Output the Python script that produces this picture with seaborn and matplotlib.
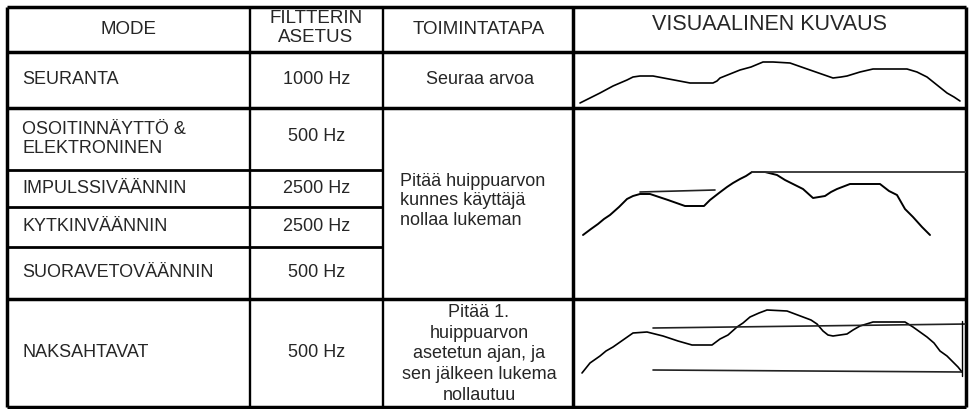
import matplotlib
matplotlib.use("Agg")
import matplotlib.pyplot as plt
import seaborn as sns
import pandas as pd

# taulukon sisältö
modes = ["SEURANTA", "OSOITINNÄYTTÖ &\nELEKTRONINEN", "IMPULSSIVÄÄNNIN",
         "KYTKINVÄÄNNIN", "SUORAVETOVÄÄNNIN", "NAKSAHTAVAT"]
filters = ["1000 Hz", "500 Hz", "2500 Hz", "2500 Hz", "500 Hz", "500 Hz"]
headers = ["MODE", "FILTTERIN\nASETUS", "TOIMINTATAPA", "VISUAALINEN KUVAUS"]
action_track = "Seuraa arvoa"
action_peak = "Pitää huippuarvon\nkunnes käyttäjä\nnollaa lukeman"
action_click = "Pitää 1.\nhuippuarvon\nasetetun ajan, ja\nsen jälkeen lukema\nnollautuu"

# käyrät (aika, taso) solun sisällä
track_t = [7, 17, 27, 40, 54, 60, 67, 80, 117, 140, 144, 147, 157, 167, 178, 190, 200, 217, 237, 260, 268, 274, 287, 300, 334, 344, 354, 364, 374, 381, 387]
track_v = [5, 10, 15, 22, 28, 31, 32, 32, 25, 25, 27, 30, 34, 38, 41, 46, 46, 45, 38, 30, 31, 32, 36, 39, 39, 36, 31, 23, 15, 11, 7]

peak_t = [10, 18, 25, 31, 37, 46, 54, 60, 67, 77, 95, 112, 131, 134, 137, 146, 154, 160, 167, 173, 179, 192, 204, 212, 220, 230, 240, 252, 258, 264, 277, 307, 316, 324, 332, 340, 349, 357]
peak_v = [64, 70, 75, 80, 84, 92, 100, 103, 105, 105, 99, 93, 93, 96, 99, 106, 112, 116, 120, 123, 127, 127, 124, 119, 115, 110, 101, 103, 107, 110, 115, 115, 108, 104, 90, 82, 72, 64]
hold1_t = [67, 142]
hold1_v = [107, 109]
hold2_t = [179, 394]
hold2_v = [127, 127]

click_t = [9, 17, 27, 33, 40, 50, 60, 74, 90, 105, 119, 139, 143, 147, 155, 164, 170, 177, 186, 194, 214, 230, 238, 244, 250, 255, 260, 274, 280, 287, 300, 332, 340, 347, 354, 361, 367, 374, 380, 385, 389]
click_v = [34, 44, 51, 56, 60, 67, 74, 75, 71, 66, 62, 62, 65, 68, 72, 80, 84, 90, 94, 97, 96, 90, 87, 83, 76, 72, 71, 73, 77, 81, 85, 85, 80, 75, 70, 64, 56, 51, 45, 40, 35]
top_t = [80, 394]
top_v = [79, 83]
low_t = [80, 389]
low_v = [37, 35]
drop_t = [389, 389]
drop_v = [86, 31]

W, H = 973, 410
col_x = [7, 250, 383, 573, 966]
row_y = [8, 53, 109, 171, 208, 248, 300, 408]

sns.set_style("white")
plt.rcParams["font.family"] = ["Liberation Sans", "DejaVu Sans"]
FS = 13
HFS = 13.5

fig = plt.figure(figsize=(W / 100, H / 100), dpi=100)
ax = fig.add_axes([0, 0, 1, 1])
ax.set_xlim(0, W)
ax.set_ylim(H, 0)
ax.axis("off")

thick, thin = 2.5, 1.7
# vaakaviivat
for i, y in enumerate(row_y):
    if i in (0, 1, 2, 6, 7):
        ax.hlines(y, col_x[0], col_x[-1], color="black", lw=thick, zorder=5)
    else:
        ax.hlines(y, col_x[0], col_x[2], color="black", lw=thin + 0.3, zorder=5)
# pystyviivat
for j, x in enumerate(col_x):
    lw = thick if j in (0, 3, 4) else thin
    ax.vlines(x, row_y[0], row_y[-1], color="black", lw=lw, zorder=5)

# otsikot
ax.text(129, 29, headers[0], ha="center", va="center", fontsize=HFS)
ax.text(316, 28, headers[1], ha="center", va="center", fontsize=HFS, linespacing=1.12)
ax.text(479, 30, headers[2], ha="center", va="center", fontsize=HFS)
ax.text(769, 25, headers[3], ha="center", va="center", fontsize=15.5)

# rivit
for k, (m, f) in enumerate(zip(modes, filters)):
    yc = (row_y[k + 1] + row_y[k + 2]) / 2 - 1
    ax.text(22, yc, m, ha="left", va="center", fontsize=FS, linespacing=1.12)
    ax.text(317, yc - (2 if k == 1 else 0), f, ha="center", va="center", fontsize=FS)

ax.text(480, (row_y[1] + row_y[2]) / 2 - 1, action_track, ha="center", va="center", fontsize=FS)
ax.text(400, 201, action_peak, ha="left", va="center", fontsize=FS, linespacing=1.23)
ax.text(479, 354, action_click, ha="center", va="center", fontsize=FS, linespacing=1.27)


def cell_axes(r0, r1):
    x0, x1 = col_x[3], col_x[4]
    y0, y1 = row_y[r0], row_y[r1]
    cax = fig.add_axes([x0 / W, 1 - y1 / H, (x1 - x0) / W, (y1 - y0) / H])
    cax.set_xlim(0, x1 - x0)
    cax.set_ylim(0, y1 - y0)
    cax.axis("off")
    return cax


def draw(cax, t, v, lw=1.1, color="black"):
    d = pd.DataFrame({"t": t, "v": v})
    sns.lineplot(data=d, x="t", y="v", sort=False, estimator=None,
                 color=color, lw=lw, ax=cax)


c1 = cell_axes(1, 2)
draw(c1, track_t, track_v, lw=1.2)

c2 = cell_axes(2, 6)
draw(c2, peak_t, peak_v, lw=1.4)
draw(c2, hold1_t, hold1_v, lw=1.2, color="#222222")
draw(c2, hold2_t, hold2_v, lw=1.3, color="#333333")

c3 = cell_axes(6, 7)
draw(c3, click_t, click_v, lw=1.2)
draw(c3, top_t, top_v, lw=1.2, color="#222222")
draw(c3, low_t, low_v, lw=1.2, color="#222222")
draw(c3, drop_t, drop_v, lw=1.0)

fig.savefig("out.png", dpi=100)
